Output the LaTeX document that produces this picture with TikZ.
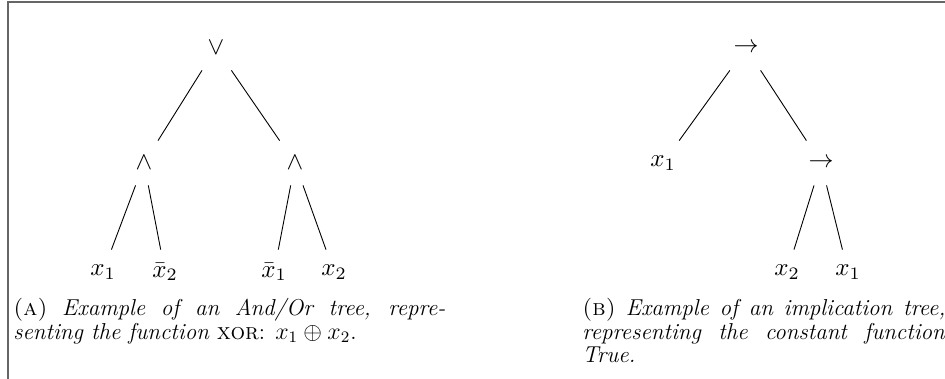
\documentclass[tikz,border=0pt]{standalone}
\usepackage{graphicx}
\usepackage{amssymb}
\newcommand{\treelab}[1]{\scalebox{1.25}{$#1$}}
\begin{document}
\begin{tikzpicture}[x=0.5pt,y=-0.5pt,
  tn/.style={minimum height=22pt, minimum width=20pt, inner sep=0pt},
  branch/.style={line width=0.45pt},
  frameline/.style={draw=black!60, line width=1pt},
  captext/.style={anchor=north west, inner sep=0pt, align=justify, font=\fontsize{11.5}{11.8}\selectfont}]
\useasboundingbox (0,0) rectangle (945,379);
\draw[frameline] (7.5,379) -- (7.5,2.5) -- (945,2.5);
% tree A
\node[tn] (or) at (216,48) {\treelab{\vee}};
\node[tn] (andl) at (144,163) {\treelab{\wedge}};
\node[tn] (andr) at (295,163) {\treelab{\wedge}};
\node[tn] (a1) at (103,272) {\treelab{x_1}};
\node[tn] (a2) at (165,272) {\treelab{\bar{x}_2}};
\node[tn] (a3) at (274,272) {\treelab{\bar{x}_1}};
\node[tn] (a4) at (334,272) {\treelab{x_2}};
\draw[branch] (or) -- (andl);
\draw[branch] (or) -- (andr);
\draw[branch] (andl) -- (a1);
\draw[branch] (andl) -- (a2);
\draw[branch] (andr) -- (a3);
\draw[branch] (andr) -- (a4);
% tree B
\node[tn] (imp) at (746,48) {\treelab{\rightarrow}};
\node[tn] (b1) at (663,163) {\treelab{x_1}};
\node[tn] (imp2) at (821,163) {\treelab{\rightarrow}};
\node[tn] (b2) at (787,272) {\treelab{x_2}};
\node[tn] (b3) at (848,272) {\treelab{x_1}};
\draw[branch] (imp) -- (b1);
\draw[branch] (imp) -- (imp2);
\draw[branch] (imp2) -- (b2);
\draw[branch] (imp2) -- (b3);
% captions
\node[captext, text width=216pt] (capa) at (13,298)
  {\textsc{(a)} \textit{Example of an And/Or tree, repre-\linebreak senting the function} \textsc{xor}: $x_1 \oplus x_2$.};
\node[captext, text width=181.5pt] (capb) at (582,298)
  {\makebox[181.5pt][s]{\textsc{(b)} \textit{Example of an implication tree,}}\\
   \makebox[181.5pt][s]{\textit{representing the constant function}}\\
   \textit{True.}};
\end{tikzpicture}
\end{document}
